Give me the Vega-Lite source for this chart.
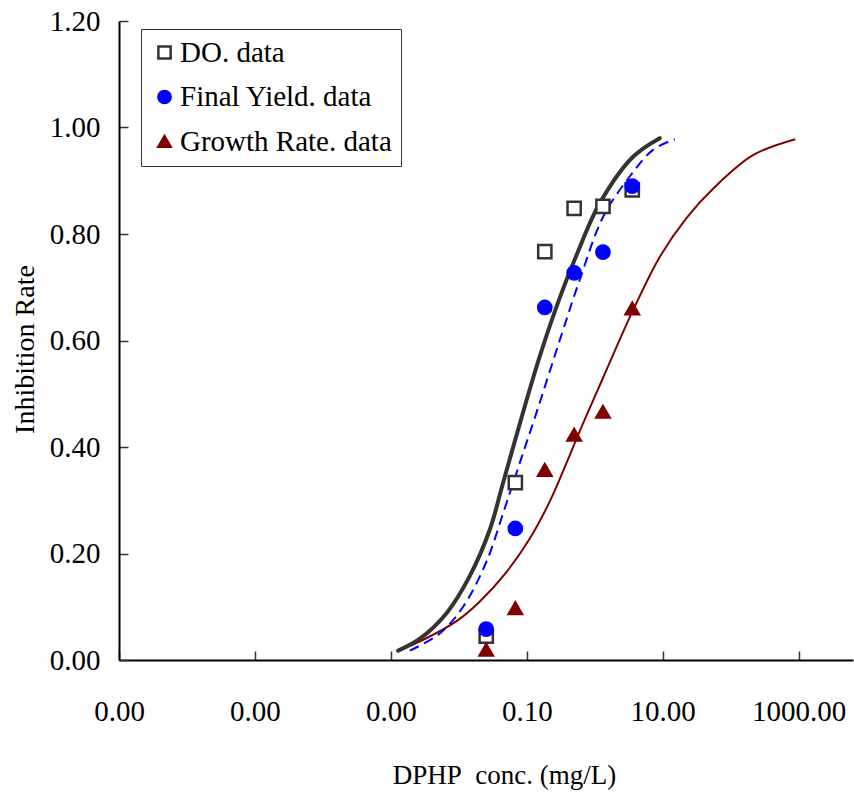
{
  "$schema": "https://vega.github.io/schema/vega-lite/v6.json",
  "width": 734,
  "height": 639,
  "autosize": {"type": "none"},
  "padding": {"left": 119, "top": 21, "right": 1, "bottom": 140},
  "background": "white",
  "datasets": {
    "points": [
      {"conc": 0.0253, "rate": 0.045, "series": "DO. data"},
      {"conc": 0.0678, "rate": 0.333, "series": "DO. data"},
      {"conc": 0.184, "rate": 0.767, "series": "DO. data"},
      {"conc": 0.497, "rate": 0.848, "series": "DO. data"},
      {"conc": 1.32, "rate": 0.852, "series": "DO. data"},
      {"conc": 3.56, "rate": 0.883, "series": "DO. data"},
      {"conc": 0.0253, "rate": 0.058, "series": "Final Yield. data"},
      {"conc": 0.0678, "rate": 0.247, "series": "Final Yield. data"},
      {"conc": 0.184, "rate": 0.662, "series": "Final Yield. data"},
      {"conc": 0.497, "rate": 0.727, "series": "Final Yield. data"},
      {"conc": 1.32, "rate": 0.766, "series": "Final Yield. data"},
      {"conc": 3.56, "rate": 0.89, "series": "Final Yield. data"},
      {"conc": 0.0253, "rate": 0.019, "series": "Growth Rate. data"},
      {"conc": 0.0678, "rate": 0.097, "series": "Growth Rate. data"},
      {"conc": 0.184, "rate": 0.357, "series": "Growth Rate. data"},
      {"conc": 0.497, "rate": 0.423, "series": "Growth Rate. data"},
      {"conc": 1.32, "rate": 0.466, "series": "Growth Rate. data"},
      {"conc": 3.56, "rate": 0.66, "series": "Growth Rate. data"}
    ],
    "curves": [
      {"conc": 0.00128, "rate": 0.0175, "curve": "DO fit"},
      {"conc": 0.00267, "rate": 0.04, "curve": "DO fit"},
      {"conc": 0.00659, "rate": 0.088, "curve": "DO fit"},
      {"conc": 0.01452, "rate": 0.158, "curve": "DO fit"},
      {"conc": 0.02858, "rate": 0.245, "curve": "DO fit"},
      {"conc": 0.0448, "rate": 0.333, "curve": "DO fit"},
      {"conc": 0.0836, "rate": 0.455, "curve": "DO fit"},
      {"conc": 0.155, "rate": 0.57, "curve": "DO fit"},
      {"conc": 0.305, "rate": 0.68, "curve": "DO fit"},
      {"conc": 0.538, "rate": 0.76, "curve": "DO fit"},
      {"conc": 1.186, "rate": 0.858, "curve": "DO fit"},
      {"conc": 3.66, "rate": 0.945, "curve": "DO fit"},
      {"conc": 9.04, "rate": 0.98, "curve": "DO fit"},
      {"conc": 0.0019, "rate": 0.0175, "curve": "Final Yield fit"},
      {"conc": 0.00526, "rate": 0.05, "curve": "Final Yield fit"},
      {"conc": 0.01156, "rate": 0.1, "curve": "Final Yield fit"},
      {"conc": 0.02553, "rate": 0.185, "curve": "Final Yield fit"},
      {"conc": 0.0474, "rate": 0.285, "curve": "Final Yield fit"},
      {"conc": 0.0836, "rate": 0.38, "curve": "Final Yield fit"},
      {"conc": 0.1312, "rate": 0.455, "curve": "Final Yield fit"},
      {"conc": 0.342, "rate": 0.62, "curve": "Final Yield fit"},
      {"conc": 0.601, "rate": 0.714, "curve": "Final Yield fit"},
      {"conc": 1.324, "rate": 0.832, "curve": "Final Yield fit"},
      {"conc": 3.27, "rate": 0.908, "curve": "Final Yield fit"},
      {"conc": 7.19, "rate": 0.958, "curve": "Final Yield fit"},
      {"conc": 15.0, "rate": 0.978, "curve": "Final Yield fit"},
      {"conc": 0.00128, "rate": 0.0175, "curve": "Growth Rate fit"},
      {"conc": 0.00299, "rate": 0.038, "curve": "Growth Rate fit"},
      {"conc": 0.00925, "rate": 0.073, "curve": "Growth Rate fit"},
      {"conc": 0.0204, "rate": 0.11, "curve": "Growth Rate fit"},
      {"conc": 0.0502, "rate": 0.165, "curve": "Growth Rate fit"},
      {"conc": 0.1107, "rate": 0.228, "curve": "Growth Rate fit"},
      {"conc": 0.218, "rate": 0.298, "curve": "Growth Rate fit"},
      {"conc": 0.384, "rate": 0.37, "curve": "Growth Rate fit"},
      {"conc": 0.601, "rate": 0.43, "curve": "Growth Rate fit"},
      {"conc": 1.324, "rate": 0.53, "curve": "Growth Rate fit"},
      {"conc": 3.66, "rate": 0.657, "curve": "Growth Rate fit"},
      {"conc": 9.04, "rate": 0.757, "curve": "Growth Rate fit"},
      {"conc": 22.3, "rate": 0.83, "curve": "Growth Rate fit"},
      {"conc": 55.0, "rate": 0.885, "curve": "Growth Rate fit"},
      {"conc": 212.8, "rate": 0.948, "curve": "Growth Rate fit"},
      {"conc": 893, "rate": 0.978, "curve": "Growth Rate fit"}
    ],
    "top": [{"rate": 1.2}]
  },
  "encoding": {
    "x": {
      "field": "conc",
      "type": "quantitative",
      "scale": {"type": "log", "domain": [1e-7, 6300], "nice": false},
      "axis": {
        "title": "DPHP\u00a0 conc. (mg/L)",
        "values": [1e-7, 1e-5, 0.001, 0.1, 10, 1000],
        "format": ".2f",
        "labelFlush": false,
        "labelOverlap": false,
        "labelFontSize": 29,
        "tickSize": -9,
        "labelPadding": 46,
        "labelDx": -4,
        "titleX": 385,
        "titleY": 115,
        "titleFontSize": 27,
        "titleBaseline": "middle",
        "titleAlign": "center"
      }
    },
    "y": {
      "field": "rate",
      "type": "quantitative",
      "scale": {"domain": [0, 1.2], "nice": false},
      "axis": {
        "title": "Inhibition Rate",
        "values": [0, 0.2, 0.4, 0.6, 0.8, 1.0, 1.2],
        "format": ".2f",
        "labelFontSize": 29,
        "tickSize": -9,
        "labelPadding": 28,
        "titleX": -94,
        "titleY": 328,
        "titleFontSize": 28,
        "titleAngle": -90,
        "titleBaseline": "middle",
        "titleAlign": "center"
      }
    }
  },
  "layer": [
    {
      "data": {"name": "top"},
      "mark": {"type": "rule", "color": "#888888", "strokeWidth": 1},
      "encoding": {"y": {"field": "rate", "type": "quantitative"}}
    },
    {
      "data": {"name": "curves"},
      "transform": [{"filter": "datum.curve === 'Growth Rate fit'"}],
      "mark": {"type": "line", "color": "#800000", "strokeWidth": 2, "interpolate": "catmull-rom"},
      "encoding": {}
    },
    {
      "data": {"name": "curves"},
      "transform": [{"filter": "datum.curve === 'DO fit'"}],
      "mark": {"type": "line", "color": "#333333", "strokeWidth": 4, "interpolate": "catmull-rom", "strokeCap": "round"},
      "encoding": {}
    },
    {
      "data": {"name": "curves"},
      "transform": [{"filter": "datum.curve === 'Final Yield fit'"}],
      "mark": {"type": "line", "color": "#0000ff", "strokeWidth": 2, "strokeDash": [10, 6], "interpolate": "catmull-rom"},
      "encoding": {}
    },
    {
      "data": {"name": "points"},
      "mark": {"type": "point", "size": 175, "strokeWidth": 2.5, "opacity": 1},
      "encoding": {
        "shape": {
          "field": "series", "type": "nominal",
          "scale": {"domain": ["DO. data", "Final Yield. data", "Growth Rate. data"], "range": ["square", "circle", "triangle-up"]},
          "legend": {"title": null}
        },
        "stroke": {
          "field": "series", "type": "nominal",
          "scale": {"domain": ["DO. data", "Final Yield. data", "Growth Rate. data"], "range": ["#333333", "#0000ff", "#800000"]},
          "legend": {"title": null}
        },
        "fill": {
          "field": "series", "type": "nominal",
          "scale": {"domain": ["DO. data", "Final Yield. data", "Growth Rate. data"], "range": ["white", "#0000ff", "#800000"]},
          "legend": {"title": null}
        }
      }
    }
  ],
  "config": {
    "view": {"stroke": null},
    "font": "Liberation Serif",
    "axis": {
      "grid": false,
      "labelFont": "Liberation Serif",
      "labelColor": "black",
      "titleFont": "Liberation Serif",
      "titleFontWeight": "normal",
      "titleColor": "black",
      "domainColor": "black",
      "domainWidth": 2,
      "tickColor": "#333333",
      "tickWidth": 1.5
    },
    "legend": {
      "orient": "none",
      "legendX": 22,
      "legendY": 8,
      "strokeColor": "#333333",
      "strokeWidth": 1,
      "fillColor": "white",
      "padding": 9,
      "rowPadding": 14.5,
      "labelFont": "Liberation Serif",
      "labelFontSize": 29,
      "labelColor": "black",
      "labelOffset": 1,
      "labelLimit": 400,
      "symbolSize": 150,
      "symbolStrokeWidth": 2.5
    }
  }
}
